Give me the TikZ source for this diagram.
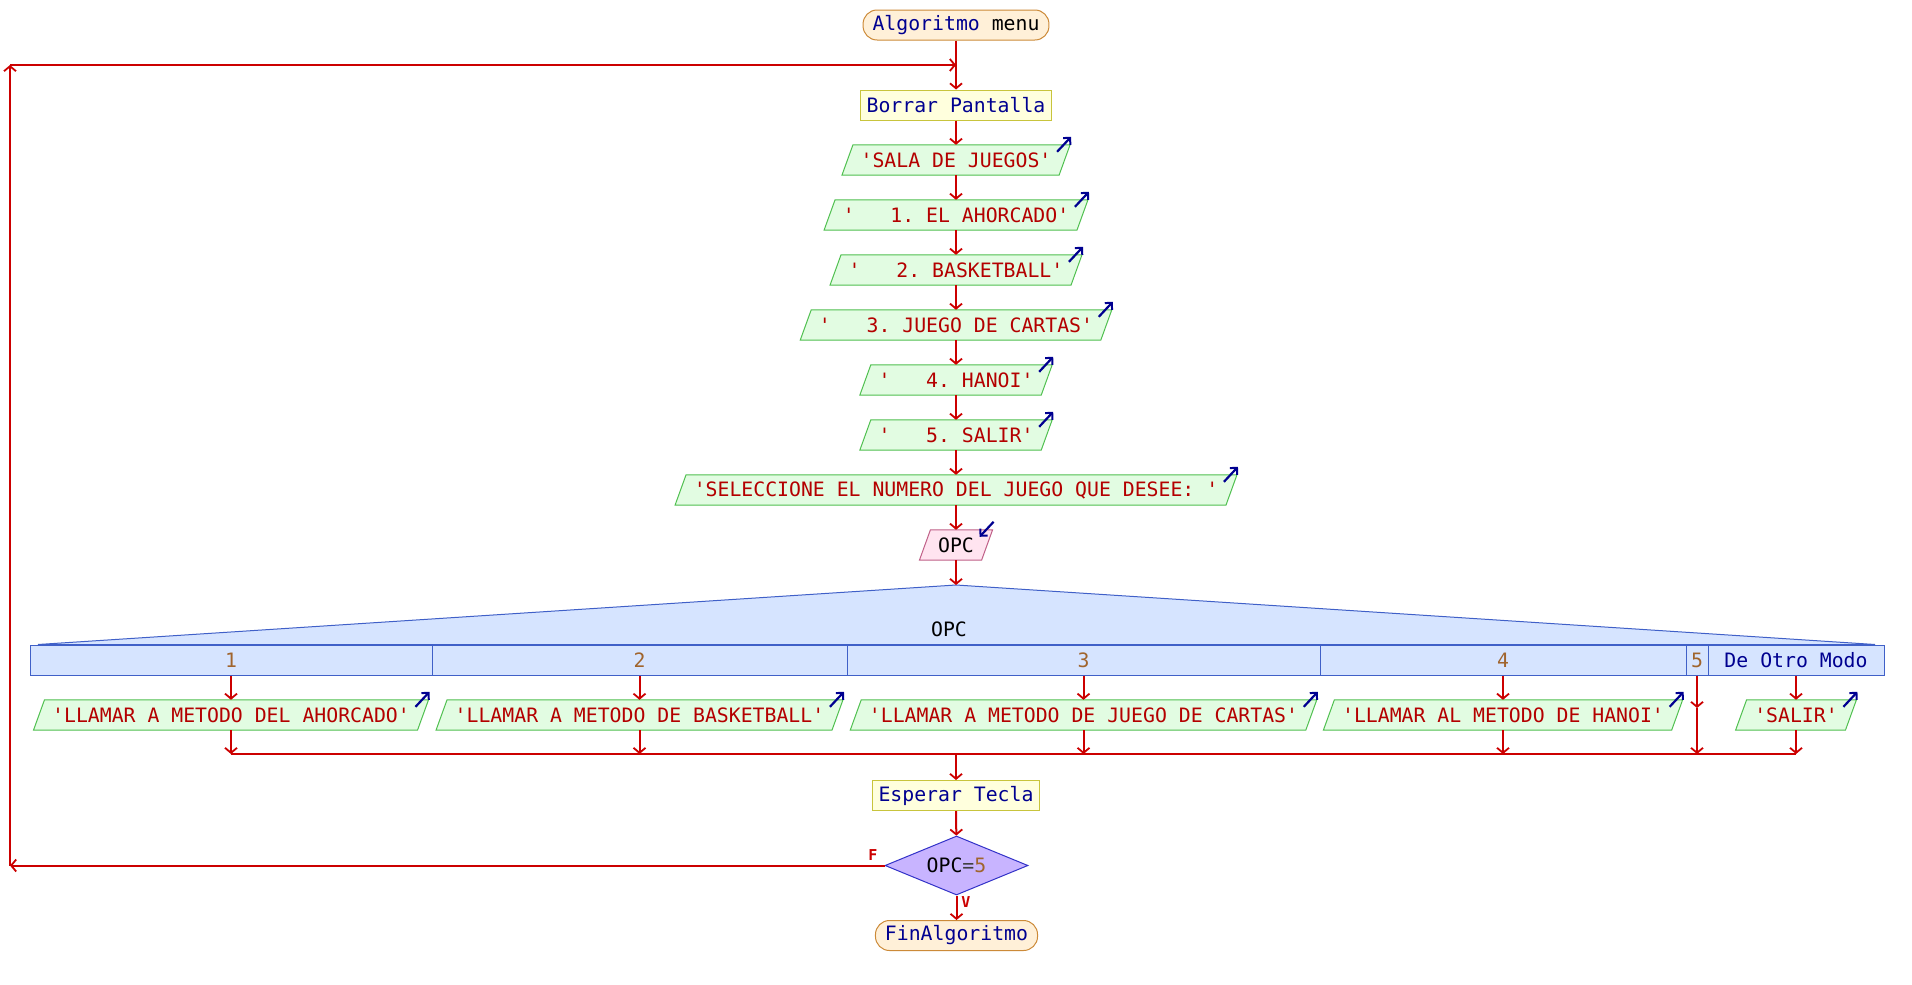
\documentclass[tikz,border=0pt]{standalone}
\usepackage{fontspec}
\setmonofont{DejaVu Sans Mono}
\usetikzlibrary{arrows.meta,shapes.geometric}
\pgfdeclarelayer{back}
\pgfdeclarelayer{bg}
\pgfsetlayers{back,bg,main}
\definecolor{cred}{HTML}{CC0000}
\definecolor{kw}{HTML}{000090}
\definecolor{str}{HTML}{B40000}
\definecolor{num}{HTML}{A0642D}
\definecolor{opc}{HTML}{404040}
\definecolor{termfill}{HTML}{FFF0D8}
\definecolor{termdraw}{HTML}{CC8A38}
\definecolor{procfill}{HTML}{FFFFDD}
\definecolor{procdraw}{HTML}{C8C43C}
\definecolor{outfill}{HTML}{E2FCE2}
\definecolor{outdraw}{HTML}{50C050}
\definecolor{infill}{HTML}{FFE4F0}
\definecolor{indraw}{HTML}{C06088}
\definecolor{swfill}{HTML}{D6E4FF}
\definecolor{swdraw}{HTML}{4060C8}
\definecolor{decfill}{HTML}{C8B4FF}
\definecolor{decdraw}{HTML}{3232C8}
\newcommand\pgshape[3]{%
  \begin{pgfonlayer}{bg}
  \filldraw[fill=#2, draw=#3, line width=1pt]
    ([xshift=5.5pt]#1.north west) -- ([xshift=5.5pt]#1.north east)
    -- ([xshift=-5.5pt]#1.south east) -- ([xshift=-5.5pt]#1.south west) -- cycle;
  \end{pgfonlayer}}
\newcommand\outarrow[1]{%
  \draw[bluearr] ([xshift=-7.5pt,yshift=-7pt]#1.north east) -- ([xshift=6.5pt,yshift=8pt]#1.north east);}
\newcommand\inarrow[1]{%
  \draw[bluearr] ([xshift=6.5pt,yshift=8pt]#1.north east) -- ([xshift=-7.5pt,yshift=-7pt]#1.north east);}
\newcommand\outnode[4]{% name, x, y, text
  \node[pgram, text=str] (#1) at (#2,#3) {#4};
  \pgshape{#1}{outfill}{outdraw}\outarrow{#1}}
\begin{document}
\begin{tikzpicture}[x=1pt,y=1pt,
  every node/.style={font=\ttfamily\fontsize{19.8}{24}\selectfont},
  redline/.style={draw=cred, line width=2pt},
  conn/.style={draw=cred, line width=2pt, -{Straight Barb[length=5pt,width=12pt,line width=1.8pt]}},
  bluearr/.style={draw=kw, line width=2.2pt, -{Straight Barb[length=5pt,width=10pt,line width=2pt]}},
  term/.style={draw=termdraw, fill=termfill, line width=1pt, rounded corners=14pt,
    minimum height=30pt, inner ysep=0pt, inner xsep=9.5pt},
  proc/.style={draw=procdraw, fill=procfill, line width=1pt,
    minimum height=30pt, inner ysep=0pt, inner xsep=6pt, text=kw},
  pgram/.style={minimum height=30pt, inner ysep=0pt, inner xsep=13pt},
  casecell/.style={draw=swdraw, fill=swfill, line width=1pt, minimum height=30pt, inner sep=0pt},
  lbl/.style={font=\ttfamily\bfseries\fontsize{15}{17}\selectfont, text=cred, inner sep=0pt}
]
\begin{pgfonlayer}{back}
\path[fill=white] (0,0) rectangle (1912,-985);
\end{pgfonlayer}

% start
\node[term] (start) at (956,-25) {\textcolor{kw}{Algoritmo} menu};
\node[proc] (borrar) at (956,-105) {Borrar Pantalla};

\outnode{s0}{956}{-160}{'SALA DE JUEGOS'}
\outnode{s1}{956}{-215}{'\ \ \ 1. EL AHORCADO'}
\outnode{s2}{956}{-270}{'\ \ \ 2. BASKETBALL'}
\outnode{s3}{956}{-325}{'\ \ \ 3. JUEGO DE CARTAS'}
\outnode{s4}{956}{-380}{'\ \ \ 4. HANOI'}
\outnode{s5}{956}{-435}{'\ \ \ 5. SALIR'}
\outnode{s6}{956}{-490}{'SELECCIONE EL NUMERO DEL JUEGO QUE DESEE: '}
\node[pgram] (opc) at (956,-545) {OPC};
\pgshape{opc}{infill}{indraw}\inarrow{opc}

\draw[conn] (start) -- (borrar);
\draw[conn] (borrar) -- (s0);
\draw[conn] (s0) -- (s1);
\draw[conn] (s1) -- (s2);
\draw[conn] (s2) -- (s3);
\draw[conn] (s3) -- (s4);
\draw[conn] (s4) -- (s5);
\draw[conn] (s5) -- (s6);
\draw[conn] (s6) -- (opc);

% switch
\coordinate (apex) at (956,-585);
\filldraw[fill=swfill, draw=swdraw, line width=1pt] (apex) -- (1875,-644.5) -- (38,-644.5) -- cycle;
\node (swl) at (949,-629) {OPC};
\draw[conn] (opc) -- (apex);

\node[casecell, minimum width=402pt] (c1) at (231,-660) {\textcolor{num}{1}};
\node[casecell, minimum width=415pt] (c2) at (639.5,-660) {\textcolor{num}{2}};
\node[casecell, minimum width=473pt] (c3) at (1083.5,-660) {\textcolor{num}{3}};
\node[casecell, minimum width=366pt] (c4) at (1503,-660) {\textcolor{num}{4}};
\node[casecell, minimum width=22pt] (c5) at (1697,-660) {\textcolor{num}{5}};
\node[casecell, minimum width=176pt] (c6) at (1796,-660) {\textcolor{kw}{De Otro Modo}};

\outnode{o1}{231}{-715}{'LLAMAR A METODO DEL AHORCADO'}
\outnode{o2}{639.5}{-715}{'LLAMAR A METODO DE BASKETBALL'}
\outnode{o3}{1083.5}{-715}{'LLAMAR A METODO DE JUEGO DE CARTAS'}
\outnode{o4}{1503}{-715}{'LLAMAR AL METODO DE HANOI'}
\outnode{o6}{1796}{-715}{'SALIR'}

\coordinate (jy) at (0,-754);
\coordinate (c5m) at (1697,-708);
\draw[redline] (o1.south |- jy) -- (o6.south |- jy);
\foreach \c/\o in {c1/o1,c2/o2,c3/o3,c4/o4,c6/o6}{
  \draw[conn] (\c.south) -- (\o.north);
  \draw[conn] (\o.south) -- (\o.south |- jy);
}
\draw[conn] (c5.south) -- (c5m);
\draw[conn] (c5m) -- (c5m |- jy);

\coordinate (jm) at (956,-754);
\node[proc] (esp) at (956,-795.5) {Esperar Tecla};
\node[diamond, draw=decdraw, fill=decfill, line width=1pt, aspect=2.4,
  minimum width=143pt, minimum height=59pt, inner sep=0pt] (dec) at (956.5,-865.5)
  {OPC\textcolor{opc}{=}\textcolor{num}{5}};
\node[term] (fin) at (956.5,-935.5) {\textcolor{kw}{FinAlgoritmo}};

\draw[conn] (jm) -- (esp);
\draw[conn] (esp) -- (dec);
\draw[conn] (dec) -- (fin);
\node[lbl] (lv) at (966,-902) {V};
\node[lbl] (lf) at (873,-855) {F};

% loop back
\coordinate (lb) at (10,-865.5);
\coordinate (lt) at (10,-65);
\coordinate (lj) at (956,-65);
\draw[conn] (dec.west) -- (lb);
\draw[conn] (lb) -- (lt);
\draw[conn] (lt) -- (lj);
\end{tikzpicture}
\end{document}
